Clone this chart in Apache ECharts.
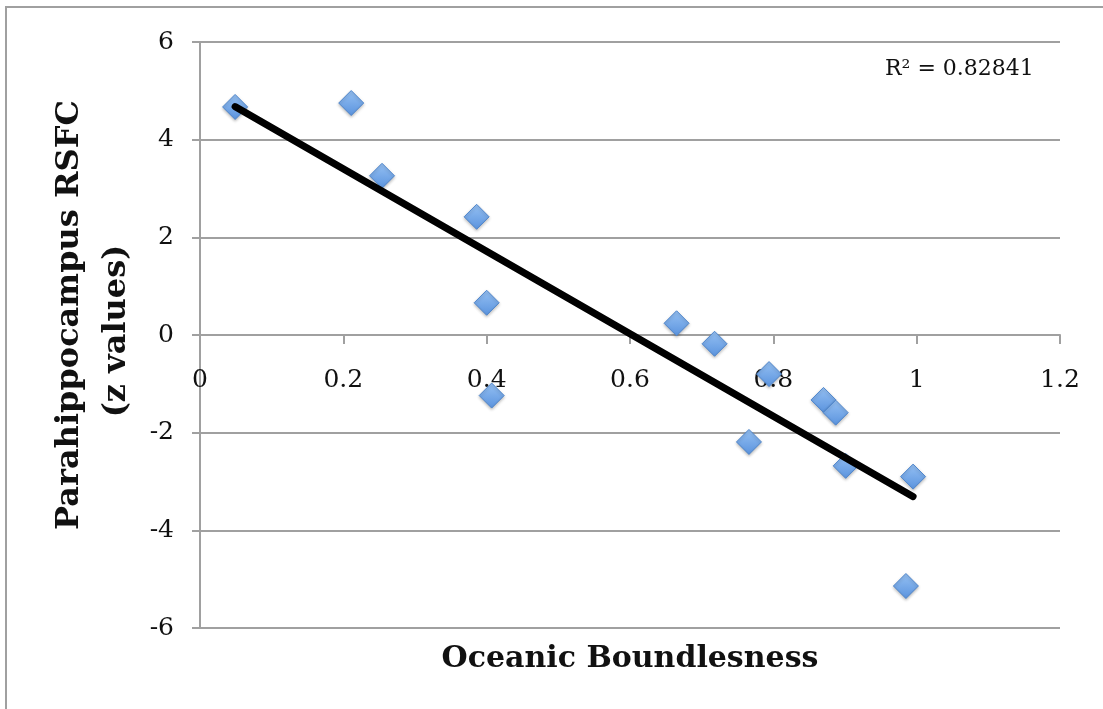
<!DOCTYPE html>
<html>
<head>
<meta charset="utf-8">
<script src="https://cdn.jsdelivr.net/npm/echarts@6/dist/echarts.min.js"></script>
<style>
html,body{margin:0;padding:0;background:#fff;}
#chart{width:1103px;height:709px;}
</style>
</head>
<body>
<div id="chart"></div>
<script>
const xValues = [0.049, 0.211, 0.254, 0.386, 0.400, 0.407, 0.665, 0.718, 0.794, 0.870, 0.887, 0.766, 0.901, 0.995, 0.985];
const yValues = [4.67, 4.75, 3.26, 2.42, 0.66, -1.24, 0.24, -0.18, -0.80, -1.33, -1.59, -2.19, -2.68, -2.90, -5.14];
const xTicks = { min: 0, max: 1.2, interval: 0.2 };
const yTicks = { min: -6, max: 6, interval: 2 };
const xTitle = 'Oceanic Boundlesness';
const yTitleLines = ['Parahippocampus RSFC', '(z values)'];
const r2Label = 'R² = 0.82841';

// least-squares trend line from the data
const n = xValues.length;
const mx = xValues.reduce((a, b) => a + b, 0) / n;
const my = yValues.reduce((a, b) => a + b, 0) / n;
let sxy = 0, sxx = 0;
for (let i = 0; i < n; i++) { sxy += (xValues[i] - mx) * (yValues[i] - my); sxx += (xValues[i] - mx) ** 2; }
const slope = sxy / sxx;
const intercept = my - slope * mx;
const xMin = Math.min(...xValues), xMax = Math.max(...xValues);
const trend = [[xMin, intercept + slope * xMin], [xMax, intercept + slope * xMax]];

const points = xValues.map((x, i) => [x, yValues[i]]);
const FONT = 'DejaVu Serif';
const GRID = { left: 200, top: 42, right: 43, bottom: 81 };
const plotH = 709 - GRID.top - GRID.bottom;
// pixel distance from the bottom of the plot up to y = 0
const zeroOffset = plotH * (0 - yTicks.min) / (yTicks.max - yTicks.min);

const chart = echarts.init(document.getElementById('chart'));
chart.setOption({
  animation: false,
  backgroundColor: '#fff',
  grid: Object.assign({ containLabel: false }, GRID),
  xAxis: {
    type: 'value', min: xTicks.min, max: xTicks.max, interval: xTicks.interval,
    offset: -zeroOffset,
    axisLine: { onZero: false, lineStyle: { color: '#a0a0a0', width: 2 } },
    axisTick: { show: true, inside: false, length: 9, lineStyle: { color: '#a0a0a0', width: 2 } },
    axisLabel: { margin: 33, fontFamily: FONT, fontSize: 25, color: '#111',
      formatter: v => String(+v.toFixed(1)) },
    splitLine: { show: false }
  },
  yAxis: {
    type: 'value', min: yTicks.min, max: yTicks.max, interval: yTicks.interval,
    axisLine: { show: true, lineStyle: { color: '#a0a0a0', width: 2 } },
    axisTick: { show: true, length: 8, lineStyle: { color: '#a0a0a0', width: 2 } },
    axisLabel: { margin: 26, fontFamily: FONT, fontSize: 25, color: '#111' },
    splitLine: { show: true, lineStyle: { color: '#a0a0a0', width: 2 } }
  },
  graphic: [
    { type: 'rect', shape: { x: 6, y: 7, width: 1200, height: 800 }, style: { fill: 'none', stroke: '#a0a0a0', lineWidth: 2 }, silent: true },
    { type: 'text', x: 630, y: 659, style: { text: xTitle, font: 'bold 30px "' + FONT + '"', fill: '#111', textAlign: 'center', textVerticalAlign: 'middle' } },
    { type: 'text', x: 70, y: 315, rotation: Math.PI / 2, style: { text: yTitleLines[0], font: 'bold 32px "' + FONT + '"', fill: '#111', textAlign: 'center', textVerticalAlign: 'middle' } },
    { type: 'text', x: 117, y: 331, rotation: Math.PI / 2, style: { text: yTitleLines[1], font: 'bold 32px "' + FONT + '"', fill: '#111', textAlign: 'center', textVerticalAlign: 'middle' } },
    { type: 'text', x: 885, y: 69, style: { text: r2Label, font: '22px "' + FONT + '"', fill: '#111', textAlign: 'left', textVerticalAlign: 'middle' } }
  ],
  series: [
    {
      type: 'scatter', data: points, symbol: 'diamond', symbolSize: 25, z: 2,
      itemStyle: {
        opacity: 1,
        color: new echarts.graphic.LinearGradient(0, 0, 0, 1, [
          { offset: 0, color: '#96c1f3' }, { offset: 1, color: '#5a93de' }
        ]),
        borderColor: '#4f86cc', borderWidth: 1,
        shadowColor: 'rgba(0,0,0,0.25)', shadowBlur: 3, shadowOffsetY: 1.5
      }
    },
    {
      type: 'line', data: trend, symbol: 'none', z: 3,
      lineStyle: { color: '#000', width: 7, cap: 'round' }
    }
  ]
});
</script>
</body>
</html>
